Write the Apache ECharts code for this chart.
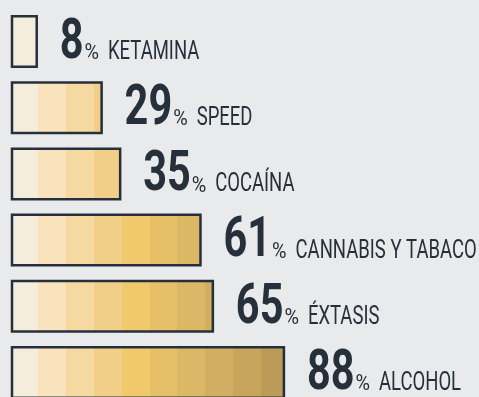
<!DOCTYPE html>
<html>
<head>
<meta charset="utf-8">
<script src="https://cdn.jsdelivr.net/npm/echarts@6/dist/echarts.min.js"></script>
<style>
  html, body { margin: 0; padding: 0; background: #e9eaec; height: 397px; overflow: hidden; }
  #chart { width: 479px; height: 406px; }
</style>
</head>
<body>
<div id="chart"></div>
<script>
// Share of respondents per substance (%)
const categories = ['KETAMINA', 'SPEED', 'COCAÍNA', 'CANNABIS Y TABACO', 'ÉXTASIS', 'ALCOHOL'];
const values = [8, 29, 35, 61, 65, 88];

// Colour bands that run across every bar, light to dark
const bandColors = ['#f5eddb', '#f9e3bd', '#f6d9a0', '#f2cf88', '#f1c86b',
                    '#e6bf69', '#dbb766', '#d1ae62', '#c7a55d', '#bb9b58'];

const INK = '#26303b';
const FONT = 'Roboto, "DejaVu Sans", sans-serif';
const NUM_SIZE = 56, PCT_SIZE = 22, CAT_SIZE = 25;
const SQUEEZE = 0.74;           // horizontal condensing of the label type

const measureCtx = document.createElement('canvas').getContext('2d');
function textWidth(text, font) {
  measureCtx.font = font;
  return measureCtx.measureText(text).width;
}

const chart = echarts.init(document.getElementById('chart'), null, { renderer: 'canvas' });

function stripedFill(x0, bandPx) {
  const n = bandColors.length;
  const stops = [];
  bandColors.forEach((c, i) => {
    stops.push({ offset: i / n, color: c });
    stops.push({ offset: (i + 1) / n - 0.0001, color: c });
  });
  return new echarts.graphic.LinearGradient(x0, 0, x0 + bandPx * n, 0, stops, true);
}

function piece(text, x, baseline, size, weight, squeeze) {
  // Text is placed by its vertical middle; shift so the alphabetic baselines line up
  return {
    type: 'text',
    x: x,
    y: baseline - 0.29 * size,
    scaleX: squeeze,
    style: {
      text: text,
      fill: INK,
      font: weight + ' ' + size + 'px ' + FONT,
      align: 'left',
      verticalAlign: 'middle'
    }
  };
}

function renderBar(params, api) {
  const idx = api.value(0);
  const val = api.value(1);
  const start = api.coord([0, idx]);
  const end = api.coord([val, idx]);
  const band = api.size([0, 1])[1];
  const h = band * 0.763;
  const cy = start[1];

  const zeroX = start[0];
  const bandPx = api.coord([9, idx])[0] - zeroX;

  const baseline = cy + 18.5;
  const numX = end[0] + 23;
  const numW = textWidth(String(val), 'bold ' + NUM_SIZE + 'px ' + FONT) * SQUEEZE;
  const pctX = numX + numW + 1;
  const pctW = textWidth('%', 'normal ' + PCT_SIZE + 'px ' + FONT) * 0.9;
  const catX = pctX + pctW + 9;

  return {
    type: 'group',
    children: [
      {
        type: 'rect',
        shape: { x: start[0], y: cy - h / 2, width: end[0] - start[0], height: h },
        style: {
          fill: stripedFill(zeroX - 1.5, bandPx),
          stroke: INK,
          lineWidth: 2.5
        }
      },
      piece(String(val), numX, baseline, NUM_SIZE, 'bold', SQUEEZE),
      piece('%', pctX, baseline, PCT_SIZE, 'normal', 0.9),
      piece(categories[idx], catX, baseline, CAT_SIZE, 'normal', SQUEEZE)
    ]
  };
}

chart.setOption({
  backgroundColor: '#e9eaec',
  animation: false,
  grid: { left: 12, top: 8.4, width: 309, height: 397.2 },
  xAxis: { type: 'value', min: 0, max: 100, show: false },
  yAxis: { type: 'category', data: categories, inverse: true, show: false },
  series: [{
    type: 'custom',
    renderItem: renderBar,
    encode: { x: 1, y: 0 },
    data: values.map((v, i) => [i, v])
  }]
});
</script>
</body>
</html>
